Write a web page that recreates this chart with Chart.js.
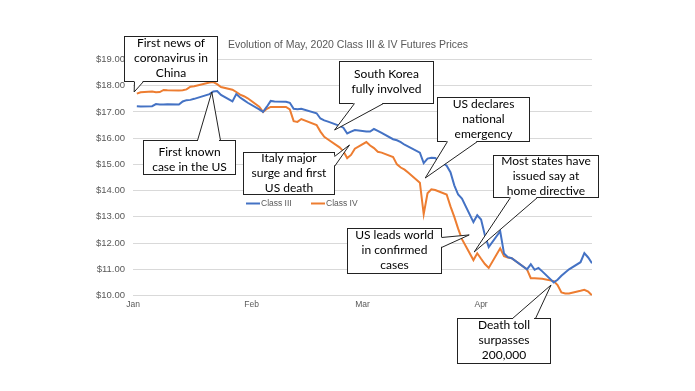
<!DOCTYPE html>
<html>
<head>
<meta charset="utf-8">
<script src="https://cdn.jsdelivr.net/npm/chart.js@4/dist/chart.umd.min.js"></script>
<style>
  html, body { margin: 0; padding: 0; background: #fff; }
  #wrap { width: 695px; height: 391px; }
</style>
</head>
<body>
<div id="wrap"><canvas id="chart" width="695" height="391"></canvas></div>
<script>
// ============================================
// Data (x = days since Jan 1, 2020; trading days only)
// ============================================
const days = [
  1, 2, 5, 6, 7, 8, 9, 12, 13, 14, 15, 16, 20, 21, 22, 23, 26, 27, 28, 29, 30,
  33, 34, 35, 36, 37, 40, 41, 42, 43, 44, 48, 49, 50, 51, 54, 55, 56, 57, 58,
  61, 62, 63, 64, 65, 68, 69, 70, 71, 72, 75, 76, 77, 78, 79, 82, 83, 84, 85, 86, 89, 90,
  91, 92, 93, 96, 97, 98, 99, 103, 104, 105, 106, 107, 110, 111, 112, 113, 114, 117, 118, 119, 120
];
const classIII = [
  17.22, 17.21, 17.22, 17.30, 17.28, 17.28, 17.29, 17.28, 17.40, 17.45, 17.46, 17.50, 17.68, 17.78, 17.80, 17.65, 17.40, 17.68, 17.55, 17.45, 17.35,
  17.10, 17.00, 17.20, 17.42, 17.40, 17.39, 17.35, 17.12, 17.10, 17.12, 16.95, 16.75, 16.68, 16.63, 16.47, 16.40, 16.18, 16.25, 16.31,
  16.25, 16.25, 16.35, 16.28, 16.20, 15.96, 15.92, 15.85, 15.75, 15.68, 15.45, 15.05, 15.22, 15.25, 15.24, 14.95, 14.70, 14.20, 13.85, 13.70, 12.80, 13.06,
  12.90, 12.30, 11.85, 12.45, 11.60, 11.46, 11.42, 11.00, 11.19, 10.98, 11.05, 10.92, 10.50, 10.60, 10.75, 10.88, 11.00, 11.27, 11.62, 11.45, 11.23
];
const classIV = [
  17.70, 17.75, 17.78, 17.75, 17.76, 17.84, 17.83, 17.82, 17.83, 17.86, 17.96, 17.98, 18.12, 18.14, 18.06, 17.95, 17.85, 17.76, 17.66, 17.60, 17.52,
  17.20, 17.00, 17.12, 17.19, 17.19, 17.19, 17.10, 16.65, 16.62, 16.73, 16.50, 16.25, 16.05, 15.95, 15.65, 15.50, 15.24, 15.36, 15.60,
  15.85, 15.72, 15.62, 15.48, 15.45, 15.28, 15.00, 14.88, 14.80, 14.68, 14.30, 13.10, 13.90, 14.05, 14.02, 13.85, 13.40, 13.00, 12.55, 12.15, 11.35, 11.61,
  11.40, 11.20, 11.05, 11.80, 11.50, 11.45, 11.42, 11.00, 10.66, 10.66, 10.65, 10.64, 10.55, 10.40, 10.12, 10.08, 10.08, 10.18, 10.22, 10.15, 10.00
];
const seriesNames = ['Class III', 'Class IV'];
const seriesColors = ['#4472C4', '#ED7D31'];

const monthTicks = [0, 31, 60, 91];
const monthLabels = ['Jan', 'Feb', 'Mar', 'Apr'];
const yMin = 10, yMax = 19;

const chartTitle = 'Evolution of May, 2020 Class III & IV Futures Prices';

// Callouts: box in pixels, tip in data units [day, price]
const callouts = [
  { lines: ['First news of', 'coronavirus in', 'China'], box: [124, 36, 93, 45], edge: 'bottom', base: [134, 143], tip: [0.3, 17.76] },
  { lines: ['First known', 'case in the US'], box: [143, 140, 92, 34], edge: 'top', base: [197, 220], tip: [20.6, 17.76], dy: 3 },
  { lines: ['Italy major', 'surge and first', 'US death'], box: [243, 152, 91, 42], edge: 'right', base: [156, 166], tip: [56.6, 15.74] },
  { lines: ['South Korea', 'fully involved'], box: [339, 61, 94, 42], edge: 'bottom', base: [354, 383], tip: [52.7, 16.31] },
  { lines: ['US declares', 'national', 'emergency'], box: [437, 97, 92, 44], edge: 'bottom', base: [447, 477], tip: [76.4, 14.48] },
  { lines: ['Most states have', 'issued say at', 'home directive'], box: [493, 155, 105, 42], edge: 'bottom', base: [510, 537], tip: [89.2, 11.66] },
  { lines: ['US leads world', 'in confirmed', 'cases'], box: [347, 228, 94, 45], edge: 'right', base: [237, 247], tip: [87.9, 12.31] },
  { lines: ['Death toll', 'surpasses', '200,000'], box: [457, 318, 93, 45], edge: 'top', base: [512, 535], tip: [109.3, 10.4] }
];

// ============================================
// Title, legend and callouts
// ============================================
const annotatePlugin = {
  id: 'annotate',
  afterDraw(chart) {
    const ctx = chart.ctx;
    const xs = chart.scales.x, ys = chart.scales.y;
    ctx.save();

    // title
    ctx.fillStyle = '#595959';
    ctx.font = '10.5px "Liberation Sans", Arial, sans-serif';
    ctx.textAlign = 'center';
    ctx.textBaseline = 'middle';
    ctx.fillText(chartTitle, 348, 45);

    // legend
    ctx.font = '8.5px "Liberation Sans", Arial, sans-serif';
    ctx.textAlign = 'left';
    const legendX = [246, 311];
    seriesNames.forEach((name, i) => {
      ctx.strokeStyle = seriesColors[i];
      ctx.lineWidth = 2;
      ctx.beginPath();
      ctx.moveTo(legendX[i], 203.5);
      ctx.lineTo(legendX[i] + 14, 203.5);
      ctx.stroke();
      ctx.fillText(name, legendX[i] + 15, 204);
    });

    // callouts
    ctx.font = '12px Lato, "Open Sans", sans-serif';
    callouts.forEach(c => {
      const [bx, by, bw, bh] = c.box;
      const tx = xs.getPixelForValue(c.tip[0]);
      const ty = ys.getPixelForValue(c.tip[1]);
      let p1, p2, gap;
      if (c.edge === 'bottom') {
        p1 = [c.base[0], by + bh]; p2 = [c.base[1], by + bh];
        gap = [p1[0] + 1, by + bh - 1, p2[0] - p1[0] - 2, 2];
      } else if (c.edge === 'top') {
        p1 = [c.base[0], by]; p2 = [c.base[1], by];
        gap = [p1[0] + 1, by - 1, p2[0] - p1[0] - 2, 2];
      } else {
        p1 = [bx + bw, c.base[0]]; p2 = [bx + bw, c.base[1]];
        gap = [bx + bw - 1, p1[1] + 1, 2, p2[1] - p1[1] - 2];
      }

      ctx.fillStyle = '#fff';
      ctx.strokeStyle = '#222';
      ctx.lineWidth = 1;
      ctx.fillRect(bx, by, bw, bh);
      ctx.strokeRect(bx + 0.5, by + 0.5, bw, bh);

      ctx.beginPath();
      ctx.moveTo(p1[0], p1[1]);
      ctx.lineTo(tx, ty);
      ctx.lineTo(p2[0], p2[1]);
      ctx.closePath();
      ctx.fill();
      ctx.fillRect(gap[0], gap[1], gap[2], gap[3]);

      ctx.beginPath();
      ctx.moveTo(p1[0] + 0.5, p1[1] + 0.5);
      ctx.lineTo(tx, ty);
      ctx.lineTo(p2[0] + 0.5, p2[1] + 0.5);
      ctx.stroke();

      ctx.fillStyle = '#000';
      ctx.textAlign = 'center';
      ctx.textBaseline = 'middle';
      const lh = 15;
      const y0 = by + bh / 2 - (c.lines.length - 1) * lh / 2 + (c.dy || 0);
      c.lines.forEach((t, i) => ctx.fillText(t, bx + bw / 2 + 0.5, y0 + i * lh));
    });

    ctx.restore();
  }
};

// ============================================
// Chart
// ============================================
const datasets = [classIII, classIV].map((vals, i) => ({
  label: seriesNames[i],
  data: days.map((d, j) => ({ x: d, y: vals[j] })),
  borderColor: seriesColors[i],
  backgroundColor: seriesColors[i],
  borderWidth: 2,
  pointRadius: 0,
  tension: 0,
  fill: false
}));

new Chart(document.getElementById('chart'), {
  type: 'line',
  data: { datasets: datasets },
  options: {
    responsive: false,
    animation: false,
    devicePixelRatio: 1,
    layout: { padding: { left: 0, right: 103, top: 59.5, bottom: 0 } },
    plugins: {
      legend: { display: false },
      title: { display: false },
      tooltip: { enabled: false }
    },
    scales: {
      x: {
        type: 'linear',
        min: 0,
        max: 120,
        afterBuildTicks: axis => { axis.ticks = monthTicks.map(v => ({ value: v })); },
        afterFit: axis => { axis.height = 391 - 295.5; },
        grid: { display: false, drawTicks: false },
        border: { display: false },
        ticks: {
          autoSkip: false,
          maxRotation: 0,
          padding: 4,
          color: '#595959',
          font: { family: '"Liberation Sans", Arial, sans-serif', size: 8.5 },
          callback: v => monthLabels[monthTicks.indexOf(v)]
        }
      },
      y: {
        min: yMin,
        max: yMax,
        afterFit: axis => { axis.width = 133; },
        grid: { color: '#d9d9d9', lineWidth: 1, drawTicks: false },
        border: { display: false },
        ticks: {
          stepSize: 1,
          padding: 8,
          color: '#595959',
          font: { family: '"Liberation Sans", Arial, sans-serif', size: 9.5 },
          callback: v => '$' + v.toFixed(2)
        }
      }
    }
  },
  plugins: [annotatePlugin]
});
</script>
</body>
</html>
